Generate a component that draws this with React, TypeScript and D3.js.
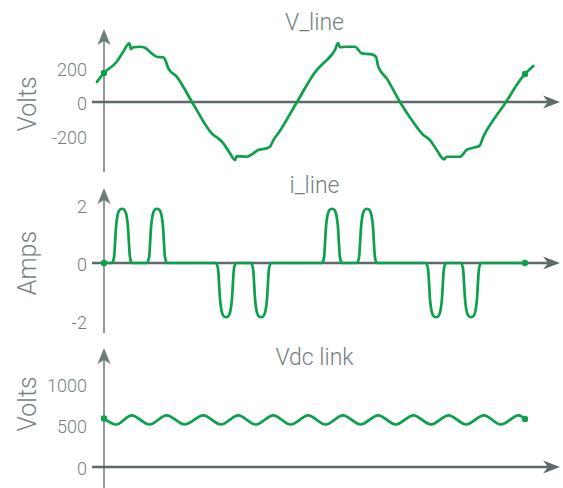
import { useEffect, useRef } from "react"
import * as d3 from "d3"

// * V_line trace, time in ms and volts
const vLineTime = [
  -0.67, 0, 1.21, 1.83, 2.4, 2.57, 2.79, 3.42, 3.9, 4.53, 5.01, 5.63, 5.89, 6.11, 6.91, 8.36, 10.39, 10.86, 11.34,
  11.97, 12.45, 12.61, 13.56, 14.19, 14.66, 15.46, 15.77, 16.09, 16.56, 18.34, 20.21, 20.84, 21.47, 21.95, 22.23,
  22.42, 23.06, 23.85, 24.48, 25.43, 25.84, 26.06, 26.86, 28.12, 29.24, 30.34, 30.97, 31.61, 32.3, 32.56, 33.82,
  34.46, 35.09, 35.66, 36.04, 36.99, 38.2, 39.21, 40, 40.79,
]
const vLineVolts = [
  118, 171, 237, 296, 345, 312, 322, 325, 319, 286, 266, 263, 237, 198, 149, 0, -194, -214, -243, -302, -341, -318,
  -322, -302, -282, -272, -263, -224, -184, 0, 188, 228, 266, 306, 347, 322, 325, 325, 286, 280, 266, 208, 139, 0,
  -106, -194, -224, -282, -337, -322, -322, -282, -269, -259, -204, -106, 0, 100, 165, 212,
]

// * i_line pulses (ms, amps) and the shape every pulse shares
const iPulseCenters = [1.71, 5.04, 11.59, 14.92, 21.66, 24.99, 31.54, 34.87]
const iPulsePeaks = [1.87, 1.87, -1.87, -1.87, 1.87, 1.87, -1.87, -1.87]
const iPulseOffsets = [-0.95, -0.76, -0.56, -0.36, -0.17, 0, 0.17, 0.36, 0.56, 0.76, 0.95]
const iPulseShape = [0, 0.1, 0.68, 0.93, 0.99, 1, 0.99, 0.93, 0.68, 0.1, 0]
const iLineStart = 0
const iLineEnd = 40

// * Vdc link ripple (ms, volts)
const vdcTime = [
  0, 1.14, 2.63, 4.3, 5.95, 7.68, 9.43, 11.1, 12.76, 14.42, 16.08, 17.74, 19.4, 21.05, 22.7, 24.38, 26.05, 27.72,
  29.4, 31.07, 32.74, 34.41, 36.08, 37.73, 39.4, 40,
]
const vdcVolts = [
  585, 512, 622, 512, 622, 512, 622, 512, 622, 512, 622, 512, 622, 512, 622, 512, 622, 512, 622, 512, 622, 512, 622,
  512, 622, 578,
]

const titles = ["V_line", "i_line", "Vdc link"]
const yLabels = ["Volts", "Amps", "Volts"]
const yTicks = [
  [200, 0, -200],
  [2, 0, -2],
  [1000, 500, 0],
]

const AXIS = "#5e6a6a"
const VAXIS = "#6f7a7a"
const TEXT = "#747f7f"
const GREEN = "#0ca04a"
const FONT = "'Helvetica Neue', Roboto, 'Liberation Sans', Arial, sans-serif"

export default function App() {
  const svgRef = useRef<SVGSVGElement>(null)

  useEffect(() => {
    if (!svgRef.current) return
    const svg = d3.select(svgRef.current)
    svg.selectAll("*").remove()

    const x = d3.scaleLinear().domain([0, 40]).range([104, 525])
    const axisLeft = 92
    const axisTip = 560

    // * Build the i_line series from the pulses
    const iLine: [number, number][] = [[iLineStart, 0]]
    iPulseCenters.forEach((c, k) => {
      iPulseOffsets.forEach((o, j) => iLine.push([c + o, iPulsePeaks[k] * iPulseShape[j]]))
    })
    iLine.push([iLineEnd, 0])

    const panels = [
      {
        y: d3.scaleLinear().domain([-200, 200]).range([136, 68]),
        data: vLineTime.map((t, i) => [t, vLineVolts[i]] as [number, number]),
        dots: [0, 40],
        dotValues: [171, 165],
        titleY: 30,
        top: 29,
        bottom: 172,
        labelY: 104,
      },
      {
        y: d3.scaleLinear().domain([-2, 2]).range([321, 205]),
        data: iLine,
        dots: [0, 40],
        dotValues: [0, 0],
        titleY: 193,
        top: 188,
        bottom: 333,
        labelY: 263,
      },
      {
        y: d3.scaleLinear().domain([0, 1000]).range([467, 384]),
        data: vdcTime.map((t, i) => [t, vdcVolts[i]] as [number, number]),
        dots: [0, 40],
        dotValues: [585, 578],
        titleY: 365,
        top: 348,
        bottom: 490,
        labelY: 404,
      },
    ]

    panels.forEach((p, k) => {
      const g = svg.append("g")
      const zero = p.y(0)
      const ax = x(0)

      // * Vertical axis with arrow
      g.append("line")
        .attr("x1", ax)
        .attr("x2", ax)
        .attr("y1", p.top + 4)
        .attr("y2", p.bottom)
        .attr("stroke", VAXIS)
        .attr("stroke-width", 1.5)
      g.append("path")
        .attr("d", `M${ax},${p.top} L${ax - 6.5},${p.top + 16} L${ax},${p.top + 12} L${ax + 6.5},${p.top + 16} Z`)
        .attr("fill", VAXIS)

      // * Horizontal axis with arrow
      g.append("line")
        .attr("x1", axisLeft)
        .attr("x2", axisTip - 8)
        .attr("y1", zero)
        .attr("y2", zero)
        .attr("stroke", AXIS)
        .attr("stroke-width", 2.5)
      g.append("path")
        .attr("d", `M${axisTip},${zero} L${axisTip - 17},${zero - 6.5} L${axisTip - 12},${zero} L${axisTip - 17},${zero + 6.5} Z`)
        .attr("fill", AXIS)

      // * Tick labels
      yTicks[k].forEach((v) => {
        g.append("text")
          .attr("x", 87)
          .attr("y", p.y(v) + 1)
          .attr("text-anchor", "end")
          .attr("dominant-baseline", "central")
          .attr("font-family", FONT)
          .attr("font-weight", 300)
          .attr("font-size", 18)
          .attr("fill", TEXT)
          .text(v)
      })

      // * Y label
      g.append("text")
        .attr("transform", `translate(27,${p.labelY}) rotate(-90)`)
        .attr("text-anchor", "middle")
        .attr("dominant-baseline", "central")
        .attr("font-family", FONT)
        .attr("font-weight", 300)
        .attr("font-size", 25)
        .attr("fill", TEXT)
        .text(yLabels[k])

      // * Title
      g.append("text")
        .attr("x", (x(0) + x(40)) / 2)
        .attr("y", p.titleY)
        .attr("text-anchor", "middle")
        .attr("font-family", FONT)
        .attr("font-weight", 300)
        .attr("font-size", 23)
        .attr("fill", TEXT)
        .text(titles[k])

      // * Trace
      const line = d3
        .line<[number, number]>()
        .x((d) => x(d[0]))
        .y((d) => p.y(d[1]))
        .curve(d3.curveMonotoneX)
      g.append("path")
        .attr("d", line(p.data))
        .attr("fill", "none")
        .attr("stroke", GREEN)
        .attr("stroke-width", 2.7)
        .attr("stroke-linejoin", "round")
        .attr("stroke-linecap", "round")

      p.dots.forEach((t, j) => {
        g.append("circle")
          .attr("cx", x(t))
          .attr("cy", p.y(p.dotValues[j]))
          .attr("r", 3.2)
          .attr("fill", GREEN)
      })
    })
  }, [])

  return (
    <svg
      ref={svgRef}
      width={563}
      height={488}
      style={{ position: "absolute", left: 0, top: 0, background: "#fff" }}
    ></svg>
  )
}
